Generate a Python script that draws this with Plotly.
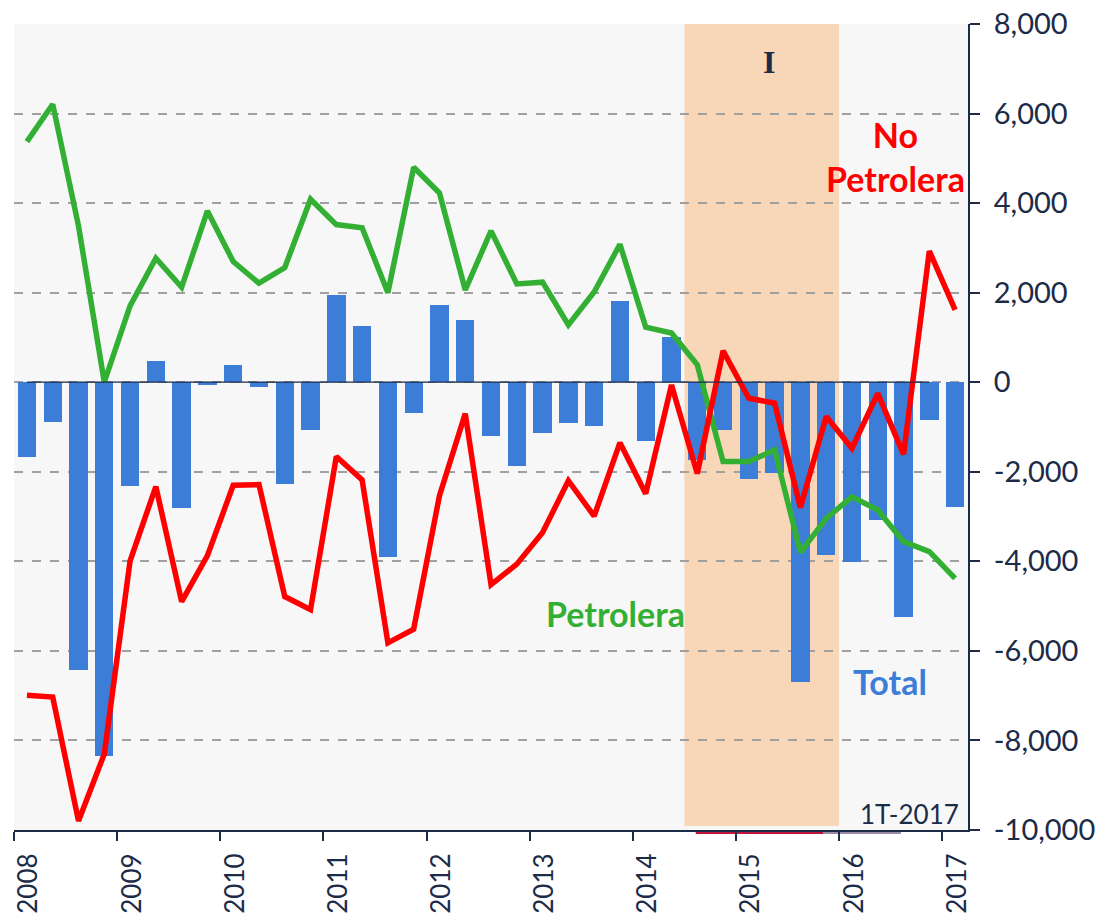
import plotly.graph_objects as go

years = list(range(2008, 2018))
quarters = [(y, q) for y in range(2008, 2017) for q in range(1, 5)] + [(2017, 1)]
x_pos = [y + (q - 0.5) / 4 for y, q in quarters]

total = [-1667, -881, -6437, -8341,
         -2310, 476, -2802, -60,
         394, -100, -2278, -1063,
         1937, 1263, -3914, -690,
         1733, 1388, -1200, -1882,
         -1129, -918, -988, 1812,
         -1311, 1020, -1736, -1065,
         -2160, -2019, -6689, -3858,
         -4007, -3076, -5236, -842,
         -2778]

petrolera = [5374, 6208, 3490, 0,
             1704, 2769, 2121, 3826,
             2694, 2211, 2560, 4086,
             3520, 3450, 2000, 4800,
             4227, 2060, 3380, 2196,
             2235, 1280, 2016, 3080,
             1231, 1098, 387, -1773,
             -1773, -1512, -3800, -3039,
             -2560, -2853, -3560, -3784,
             -4380]

no_petrolera = [-6992, -7032, -9800, -8302,
                -3992, -2330, -4900, -3873,
                -2302, -2286, -4786, -5080,
                -1660, -2180, -5820, -5514,
                -2533, -700, -4520, -4063,
                -3357, -2200, -2990, -1350,
                -2490, -60, -2040, 700,
                -358, -469, -2800, -767,
                -1475, -250, -1610, 2930,
                1616]

y_ticks = list(range(-10000, 8001, 2000))
x_ticktext = [str(y) for y in years]

NAVY = "#1c2b48"
GREEN = "#33b034"
RED = "#ff0000"
BLUE = "#3c7dd8"
TICK_SIZE = 26

fig = go.Figure()
fig.add_trace(go.Bar(x=x_pos, y=total, width=0.178, marker=dict(color=BLUE, line=dict(width=0)),
                     name="Total", showlegend=False))
fig.add_trace(go.Scatter(x=x_pos, y=petrolera, mode="lines", line=dict(color=GREEN, width=5.5),
                         name="Petrolera", showlegend=False))
fig.add_trace(go.Scatter(x=x_pos, y=no_petrolera, mode="lines", line=dict(color=RED, width=5.5),
                         name="No Petrolera", showlegend=False))

shapes = [
    dict(type="rect", xref="x", yref="y", x0=2014.5, x1=2016.0, y0=-9910, y1=8000,
         fillcolor="#f8d7b9", line=dict(width=0), layer="below"),
    dict(type="line", xref="x", yref="y", x0=x_pos[0], x1=x_pos[-2], y0=0, y1=0,
         line=dict(color=NAVY, width=1.2), layer="above"),
    dict(type="line", xref="x", yref="paper", x0=2014.61, x1=2015.85, y0=-0.003, y1=-0.003,
         line=dict(color="#c0143c", width=3), layer="below"),
    dict(type="line", xref="x", yref="paper", x0=2015.85, x1=2016.6, y0=-0.003, y1=-0.003,
         line=dict(color="#9a8aa8", width=3), layer="below"),
]

annotations = [
    dict(x=2015.32, y=7150, xref="x", yref="y", text="<b>I</b>", showarrow=False,
         font=dict(family="Liberation Serif", size=32, color=NAVY)),
    dict(x=2016.55, y=5040, xref="x", yref="y", text="<b>No<br>Petrolera</b>", showarrow=False,
         font=dict(family="Lato", size=34, color=RED), align="center"),
    dict(x=2013.83, y=-5170, xref="x", yref="y", text="<b>Petrolera</b>", showarrow=False,
         font=dict(family="Lato", size=34, color=GREEN)),
    dict(x=2016.49, y=-6680, xref="x", yref="y", text="<b>Total</b>", showarrow=False,
         font=dict(family="Lato", size=34, color=BLUE)),
    dict(x=2017.18, y=-9650, xref="x", yref="y", text="1T-2017", showarrow=False, xanchor="right",
         font=dict(family="Lato", size=26, color=NAVY)),
]

fig.update_layout(
    width=1102, height=917,
    margin=dict(l=14, r=134, t=24, b=87),
    paper_bgcolor="white", plot_bgcolor="#f7f7f7",
    bargap=0, barmode="overlay",
    shapes=shapes, annotations=annotations,
    font=dict(family="Lato", color=NAVY),
    xaxis=dict(range=[2007.9995, 2017.25], tickvals=years, ticktext=x_ticktext,
               tickangle=-90, ticks="outside", ticklen=9, tickwidth=2, tickcolor=NAVY,
               showline=True, linecolor=NAVY, linewidth=2, showgrid=False, zeroline=False,
               automargin=False, ticklabelstandoff=2, ticklabelshift=15,
               ticklabeloverflow="allow",
               tickfont=dict(family="Lato", size=TICK_SIZE, color=NAVY)),
    yaxis=dict(range=[-10000, 8000], side="right", tickvals=y_ticks,
               ticktext=[f"{v:,}" for v in y_ticks],
               ticks="outside", ticklen=10, tickwidth=2, tickcolor=NAVY,
               showline=True, linecolor=NAVY, linewidth=2, mirror=False,
               showgrid=True, gridcolor="#a0a0a0", gridwidth=1.6, griddash="dash",
               zeroline=False, automargin=False, ticklabelstandoff=8,
               ticklabeloverflow="allow",
               tickfont=dict(family="Lato", size=29, color=NAVY)),
)

fig.write_html("out.html", config={"displayModeBar": False},
               post_script="document.body.style.margin='0';document.body.style.padding='0';")
